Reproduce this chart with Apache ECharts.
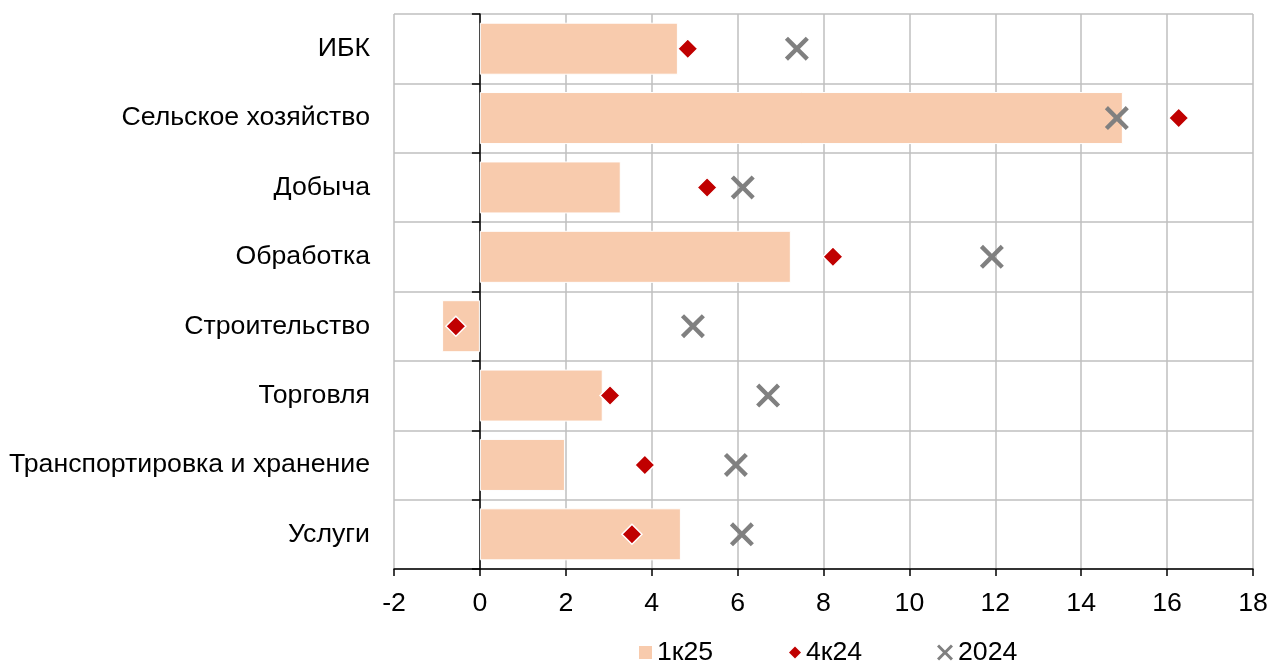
<!DOCTYPE html>
<html>
<head>
<meta charset="utf-8">
<script src="https://cdn.jsdelivr.net/npm/echarts@6/dist/echarts.min.js"></script>
<style>
  html, body { margin: 0; padding: 0; background: #fff; }
  #chart { width: 1277px; height: 664px; }
</style>
</head>
<body>
<div id="chart"></div>
<script>
// Отрасли (сверху вниз)
const categories = ['ИБК', 'Сельское хозяйство', 'Добыча', 'Обработка', 'Строительство', 'Торговля', 'Транспортировка и хранение', 'Услуги'];
// Рост, % г/г
const values1q25 = [4.61, 14.97, 3.28, 7.24, -0.88, 2.86, 1.98, 4.68];
const values4q24 = [4.84, 16.27, 5.29, 8.22, -0.56, 3.03, 3.84, 3.54];
const values2024 = [7.38, 14.83, 6.12, 11.92, 4.96, 6.71, 5.96, 6.10];
const seriesNames = ['1к25', '4к24', '2024'];

const FONT = 'Liberation Sans, Arial, sans-serif';
const FS = 26.7;
const GRID = '#BFBFBF';
const PEACH = '#F8CBAD';
const RED = '#C00000';
const GREY = '#808080';
const CROSS = 'path://M0,13L13,0L50,37L87,0L100,13L63,50L100,87L87,100L50,63L13,100L0,87L37,50Z';

// одна легенда на серию, чтобы задать каждой свой размер значка
function legendItem(name, icon, color, left, size) {
  return {
    left: left, top: 639, padding: 0,
    itemWidth: size, itemHeight: size, itemGap: 0,
    textStyle: { color: '#000', fontSize: FS, lineHeight: 26, fontFamily: FONT },
    data: [{ name: name, icon: icon, itemStyle: { color: color, borderWidth: 0 } }]
  };
}

const chart = echarts.init(document.getElementById('chart'), null, { renderer: 'canvas' });
chart.setOption({
  animation: false,
  textStyle: { fontFamily: FONT },
  grid: { left: 394, right: 24, top: 14, bottom: 95, containLabel: false },
  xAxis: {
    type: 'value',
    min: -2, max: 18, interval: 2,
    axisLine: { show: true, onZero: false, lineStyle: { color: '#000', width: 1.5 } },
    axisTick: { show: true, length: 7, lineStyle: { color: '#000', width: 1.5 } },
    axisLabel: { color: '#000', fontSize: FS, margin: 21, fontFamily: FONT },
    splitLine: { show: true, lineStyle: { color: GRID, width: 1.5 } }
  },
  yAxis: [
    {
      type: 'category',
      data: categories,
      inverse: true,
      axisLine: { show: true, onZero: true, lineStyle: { color: '#000', width: 1.5 } },
      axisTick: { show: true, length: 8, lineStyle: { color: '#000', width: 1.5 } },
      axisLabel: { show: false },
      splitLine: { show: true, lineStyle: { color: GRID, width: 1.5 } }
    },
    {
      type: 'category',
      data: categories,
      inverse: true,
      position: 'left',
      axisLine: { show: false, onZero: false },
      axisTick: { show: false },
      axisLabel: { color: '#000', fontSize: FS, margin: 24, fontFamily: FONT },
      splitLine: { show: false }
    }
  ],
  legend: [
    legendItem(seriesNames[0], 'rect', PEACH, 639, 13),
    legendItem(seriesNames[1], 'diamond', RED, 789, 12),
    legendItem(seriesNames[2], CROSS, GREY, 937, 16)
  ],
  series: [
    {
      name: seriesNames[0],
      type: 'bar',
      yAxisIndex: 0,
      data: values1q25,
      barCategoryGap: '25%',
      itemStyle: { color: PEACH, borderColor: '#fff', borderWidth: 1 },
      z: 2
    },
    {
      name: seriesNames[1],
      type: 'scatter',
      yAxisIndex: 0,
      data: values4q24,
      symbol: 'diamond',
      symbolSize: 20,
      itemStyle: { color: RED, borderColor: '#fff', borderWidth: 1.5, opacity: 1 },
      z: 4
    },
    {
      name: seriesNames[2],
      type: 'scatter',
      yAxisIndex: 0,
      data: values2024,
      symbol: CROSS,
      symbolSize: 24,
      itemStyle: { color: GREY, opacity: 1 },
      z: 3
    }
  ]
});
</script>
</body>
</html>
